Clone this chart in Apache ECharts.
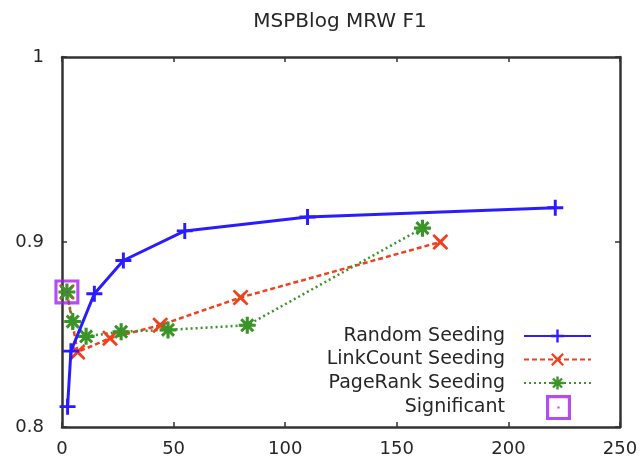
<!DOCTYPE html>
<html>
<head>
<meta charset="utf-8">
<script src="https://cdn.jsdelivr.net/npm/echarts@6/dist/echarts.min.js"></script>
<style>html,body{margin:0;padding:0;background:#fff}#c{width:644px;height:461px}</style>
</head>
<body>
<div id="c"></div>
<script>
const titleText = 'MSPBlog MRW F1';
const seriesNames = ['Random Seeding', 'LinkCount Seeding', 'PageRank Seeding', 'Significant'];
const randomX = [2.5, 4, 14.5, 27.5, 55, 110, 221];
const randomY = [0.811, 0.841, 0.872, 0.890, 0.906, 0.9135, 0.9185];
const linkX = [2.2, 7, 21.5, 44, 80, 169.5];
const linkY = [0.873, 0.8405, 0.848, 0.855, 0.870, 0.900];
const pageX = [2.2, 4.8, 10.8, 26.5, 47.5, 83, 161.5];
const pageY = [0.873, 0.857, 0.849, 0.8515, 0.8525, 0.855, 0.9075];
const sigX = [2.2];
const sigY = [0.873];
const xTicks = [0, 50, 100, 150, 200, 250];
const yTicks = [0.8, 0.9, 1];

const zip = (a, b) => a.map((v, i) => [v, b[i]]);
const PLUS = 'path://M-1.1,-6H1.1V-1.1H6V1.1H1.1V6H-1.1V1.1H-6V-1.1H-1.1Z';
const CROSS = 'path://M-4.6,-6L0,-1.6L4.6,-6L6,-4.6L1.6,0L6,4.6L4.6,6L0,1.6L-4.6,6L-6,4.6L-1.6,0L-6,-4.6Z';
const STAR = 'path://M-1.1,-6H1.1V-2.6L3.5,-5L5,-3.5L2.6,-1.1H6V1.1H2.6L5,3.5L3.5,5L1.1,2.6V6H-1.1V2.6L-3.5,5L-5,3.5L-2.6,1.1H-6V-1.1H-2.6L-5,-3.5L-3.5,-5L-1.1,-2.6Z';
const SQDOT = 'path://M0,0H24V24H0Z M3,3V21H21V3Z M11,11H13V13H11Z';

const font = 'DejaVu Sans, Verdana, sans-serif';
const txt = '#262626';
const axisLine = {show: true, onZero: false, lineStyle: {color: '#333', width: 2.5}};
const tickInside = {show: true, inside: true, length: 5, lineStyle: {color: '#333', width: 1.5}};
const legendText = {fontFamily: font, fontSize: 19, lineHeight: 22, color: txt, width: 240, align: 'right', padding: [0, 14, 0, 0]};
const legendText2 = Object.assign({}, legendText, {padding: [0, 15, 0, 0]});

const chart = echarts.init(document.getElementById('c'), null, {renderer: 'canvas'});
chart.setOption({
  animation: false,
  backgroundColor: '#fff',
  title: {text: titleText, left: 340, top: 12, textAlign: 'center', padding: 0,
    textStyle: {fontFamily: font, fontSize: 20, fontWeight: 'normal', color: txt}},
  grid: {left: 62, right: 24, top: 57, bottom: 34},
  legend: [
    {orient: 'vertical', right: 52, top: 325, align: 'right', padding: 0,
      itemWidth: 67, itemHeight: 16, itemGap: 1.5,
      data: seriesNames.slice(0, 3), textStyle: legendText},
    {orient: 'vertical', right: 73, top: 395, align: 'right', padding: 0,
      itemWidth: 67, itemHeight: 25, itemGap: 0,
      data: seriesNames.slice(3), textStyle: legendText2}
  ],
  xAxis: [
    {type: 'value', position: 'bottom', min: xTicks[0], max: xTicks[xTicks.length - 1], interval: 50,
      axisLine: axisLine, axisTick: tickInside, splitLine: {show: false},
      axisLabel: {fontFamily: font, fontSize: 18, color: txt, margin: 13}},
    {type: 'value', position: 'top', min: xTicks[0], max: xTicks[xTicks.length - 1], interval: 50,
      axisLine: axisLine, axisTick: tickInside, splitLine: {show: false}, axisLabel: {show: false}}
  ],
  yAxis: [
    {type: 'value', position: 'left', min: yTicks[0], max: yTicks[yTicks.length - 1], interval: 0.1,
      axisLine: axisLine, axisTick: tickInside, splitLine: {show: false},
      axisLabel: {fontFamily: font, fontSize: 18, color: txt, margin: 18,
        formatter: v => String(+v.toFixed(1))}},
    {type: 'value', position: 'right', min: yTicks[0], max: yTicks[yTicks.length - 1], interval: 0.1,
      axisLine: axisLine, axisTick: tickInside, splitLine: {show: false}, axisLabel: {show: false}}
  ],
  series: [
    {name: seriesNames[0], type: 'line', data: zip(randomX, randomY), symbol: PLUS, symbolSize: 16,
      lineStyle: {color: '#2a1cff', width: 3}, itemStyle: {color: '#2a1cff'}, z: 3},
    {name: seriesNames[1], type: 'line', data: zip(linkX, linkY), symbol: CROSS, symbolSize: 16,
      lineStyle: {color: '#f0401e', width: 2.5, type: [5, 3]}, itemStyle: {color: '#f0401e'}, z: 2},
    {name: seriesNames[2], type: 'line', data: zip(pageX, pageY), symbol: STAR, symbolSize: 17,
      lineStyle: {color: '#3a9428', width: 2.5, type: [2, 3]}, itemStyle: {color: '#3a9428'}, z: 2},
    {name: seriesNames[3], type: 'scatter', data: zip(sigX, sigY), symbol: SQDOT, symbolSize: 25,
      itemStyle: {color: '#a020f0'}, z: 4}
  ]
});
</script>
</body>
</html>
